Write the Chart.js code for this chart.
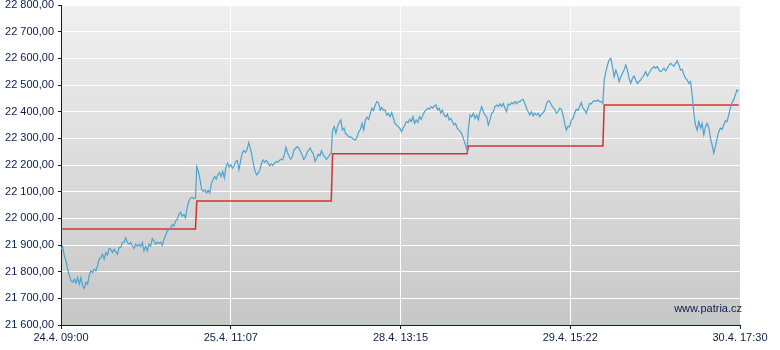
<!DOCTYPE html>
<html>
<head>
<meta charset="utf-8">
<script src="https://cdn.jsdelivr.net/npm/chart.js@4.4.0/dist/chart.umd.min.js"></script>
<style>
  html, body { margin: 0; padding: 0; background: #ffffff; }
  #wrap { width: 780px; height: 350px; position: relative; }
</style>
</head>
<body>
<div id="wrap"><canvas id="c" width="780" height="350"></canvas></div>
<script>
// ---- Data ----
const xTickLabels = ["24.4. 09:00", "25.4. 11:07", "28.4. 13:15", "29.4. 15:22", "30.4. 17:30"];
const sessionMinutes = 510;          // 09:00 - 17:30
const sessionCount = 5;
const yMin = 21600, yMax = 22800, yStep = 100;

// previous-day close (red step line), one level per session
const prevClose = [21960, 22065, 22242, 22271, 22425];

// intraday index values (blue line), per session
const day1 = [21884, 21894, 21859, 21840, 21809, 21785, 21766, 21760, 21772, 21757, 21778, 21753, 21778, 21747, 21737, 21760, 21753, 21785, 21803, 21797, 21809, 21803, 21822, 21847, 21853, 21865, 21847, 21872, 21862, 21887, 21884, 21872, 21884, 21874, 21865, 21890, 21890, 21909, 21911, 21927, 21909, 21903, 21909, 21896, 21887, 21903, 21896, 21903, 21894, 21909, 21878, 21896, 21878, 21903, 21896, 21924, 21915, 21903, 21911, 21906, 21911, 21899, 21921, 21936, 21952, 21958, 21965, 21977, 21971, 21990, 21996, 22014, 22023, 22008, 22014, 22002, 22039, 22064, 22076, 22080, 22073, 22076];
const day2 = [22194, 22176, 22145, 22107, 22101, 22107, 22095, 22105, 22095, 22132, 22145, 22157, 22147, 22163, 22172, 22157, 22176, 22151, 22194, 22207, 22192, 22201, 22188, 22197, 22213, 22217, 22182, 22213, 22244, 22254, 22247, 22257, 22284, 22263, 22238, 22201, 22176, 22163, 22170, 22184, 22207, 22219, 22210, 22217, 22207, 22197, 22204, 22199, 22207, 22213, 22210, 22217, 22222, 22219, 22238, 22266, 22247, 22232, 22222, 22232, 22257, 22263, 22269, 22263, 22250, 22238, 22221, 22229, 22246, 22256, 22263, 22250, 22241, 22213, 22225, 22241, 22234, 22254, 22238, 22231, 22221, 22229, 22238, 22244];
const day3 = [22331, 22344, 22319, 22344, 22359, 22369, 22331, 22338, 22316, 22313, 22304, 22306, 22300, 22296, 22294, 22306, 22325, 22334, 22356, 22331, 22369, 22379, 22371, 22394, 22413, 22404, 22425, 22438, 22434, 22406, 22416, 22404, 22406, 22387, 22394, 22381, 22396, 22379, 22356, 22350, 22344, 22338, 22325, 22338, 22350, 22363, 22359, 22371, 22363, 22381, 22356, 22369, 22359, 22381, 22371, 22387, 22400, 22406, 22413, 22409, 22419, 22413, 22421, 22425, 22406, 22413, 22394, 22406, 22387, 22381, 22391, 22369, 22375, 22363, 22350, 22356, 22338, 22331, 22325, 22313, 22294, 22275, 22256];
const day4 = [22338, 22387, 22381, 22394, 22375, 22387, 22369, 22400, 22419, 22400, 22387, 22381, 22350, 22369, 22394, 22400, 22419, 22425, 22419, 22429, 22419, 22431, 22413, 22400, 22429, 22425, 22434, 22429, 22438, 22429, 22438, 22438, 22444, 22446, 22431, 22413, 22400, 22388, 22400, 22384, 22394, 22388, 22394, 22381, 22391, 22396, 22406, 22429, 22441, 22438, 22425, 22416, 22409, 22394, 22400, 22413, 22409, 22388, 22356, 22331, 22345, 22344, 22369, 22375, 22394, 22409, 22404, 22419, 22434, 22413, 22406, 22394, 22413, 22431, 22429, 22438, 22441, 22438, 22444, 22438, 22438, 22431];
const day5 = [22519, 22550, 22575, 22594, 22600, 22569, 22531, 22556, 22538, 22513, 22531, 22544, 22556, 22575, 22556, 22525, 22506, 22525, 22534, 22519, 22506, 22513, 22519, 22529, 22538, 22550, 22534, 22544, 22556, 22563, 22569, 22563, 22569, 22556, 22550, 22556, 22563, 22553, 22563, 22575, 22581, 22575, 22571, 22581, 22591, 22575, 22556, 22559, 22538, 22525, 22519, 22506, 22513, 22463, 22394, 22350, 22331, 22363, 22338, 22356, 22313, 22344, 22356, 22341, 22300, 22275, 22245, 22269, 22300, 22325, 22338, 22334, 22350, 22366, 22363, 22388, 22413, 22434, 22444, 22463, 22481, 22476];
const days = [day1, day2, day3, day4, day5];

// ---- Build datasets ----
const usable = sessionMinutes - 5;
const bluePts = [];
days.forEach((arr, d) => {
  const n = arr.length;
  arr.forEach((v, i) => bluePts.push({ x: d * sessionMinutes + i * usable / (n - 1), y: v }));
});
const redPts = [];
prevClose.forEach((v, d) => {
  redPts.push({ x: d * sessionMinutes, y: v });
  redPts.push({ x: d * sessionMinutes + usable, y: v });
});
const xMax = sessionMinutes * sessionCount;
const xTickValues = xTickLabels.map((_, i) => i * xMax / (xTickLabels.length - 1));

const NAVY = '#0b1d4d';
const FONT = { family: 'Arial, "Liberation Sans", sans-serif', size: 11 };

function fmt(v) {
  const s = Math.round(v).toString();
  return s.slice(0, s.length - 3) + ' ' + s.slice(-3) + ',00';
}

const bgPlugin = {
  id: 'bg',
  beforeDraw(chart) {
    const { ctx, chartArea: a } = chart;
    const g = ctx.createLinearGradient(0, a.top, 0, a.bottom);
    g.addColorStop(0, '#f0f0f0');
    g.addColorStop(1, '#c7c7c7');
    ctx.save();
    ctx.fillStyle = g;
    ctx.fillRect(a.left, a.top, a.right - a.left, a.bottom - a.top);
    ctx.restore();
  },
  afterDraw(chart) {
    const { ctx, chartArea: a } = chart;
    ctx.save();
    ctx.fillStyle = NAVY;
    ctx.font = '11px Arial, "Liberation Sans", sans-serif';
    ctx.textAlign = 'right';
    ctx.textBaseline = 'alphabetic';
    ctx.fillText('www.patria.cz', a.right + 2, a.bottom - 13);
    ctx.restore();
  }
};

new Chart(document.getElementById('c'), {
  type: 'line',
  data: {
    datasets: [
      { data: bluePts, borderColor: '#4ba3cf', borderWidth: 1.2, pointRadius: 0, tension: 0, order: 1 },
      { data: redPts, borderColor: '#cf3434', borderWidth: 1.5, pointRadius: 0, tension: 0, order: 2 }
    ]
  },
  options: {
    responsive: false,
    animation: false,
    devicePixelRatio: 1,
    layout: { padding: { top: 5, right: 40, left: 0, bottom: 0 } },
    plugins: { legend: { display: false }, tooltip: { enabled: false } },
    scales: {
      x: {
        type: 'linear',
        min: 0, max: xMax,
        afterBuildTicks(scale) { scale.ticks = xTickValues.map(v => ({ value: v })); },
        afterFit(scale) { scale.height = 25; scale.paddingLeft = 0; scale.paddingRight = 0; },
        ticks: {
          autoSkip: false, maxRotation: 0, padding: 2, color: NAVY, font: FONT,
          callback(v) { const i = xTickValues.indexOf(v); return i >= 0 ? xTickLabels[i] : ''; }
        },
        grid: { color: '#ffffff', lineWidth: 1, tickColor: NAVY, tickLength: 4, drawTicks: true },
        border: { color: NAVY, width: 1 }
      },
      y: {
        type: 'linear',
        min: yMin, max: yMax,
        afterFit(scale) { scale.width = 61; scale.paddingTop = 0; scale.paddingBottom = 0; },
        ticks: { stepSize: yStep, padding: 4, color: NAVY, font: FONT, callback: v => fmt(v) },
        grid: { color: '#ffffff', lineWidth: 1, tickColor: NAVY, tickLength: 3 },
        border: { color: NAVY, width: 1 }
      }
    }
  },
  plugins: [bgPlugin]
});
</script>
</body>
</html>
